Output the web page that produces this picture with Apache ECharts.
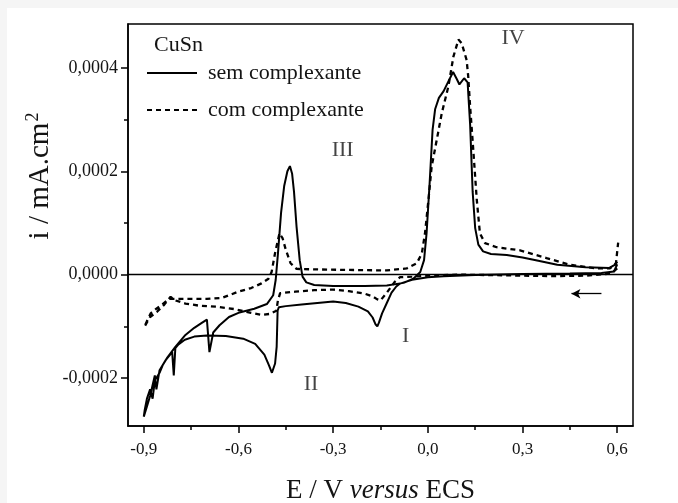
<!DOCTYPE html>
<html>
<head>
<meta charset="utf-8">
<script src="https://cdn.jsdelivr.net/npm/echarts@6/dist/echarts.min.js"></script>
<style>
  html, body { margin: 0; padding: 0; background: #f5f5f5; }
  #main { position: absolute; left: 7px; top: 8px; width: 671px; height: 495px; background: #fff; }
</style>
</head>
<body>
<div id="main"></div>
<script>
// E (V vs ECS) / i, varredura começa em 0,6 V no sentido catódico
const semComplexante = [
    [0.600, 0.000020], [0.590, 0.000006], [0.550, 0.000003], [0.450, 0.000002],
    [0.300, 0.000001], [0.150, -0.000001], [0.050, -0.000003], [0.000, -0.000005],
    [-0.050, -0.000010], [-0.090, -0.000018], [-0.100, -0.000023], [-0.115, -0.000035],
    [-0.130, -0.000055], [-0.145, -0.000075], [-0.155, -0.000093], [-0.160, -0.000100],
    [-0.166, -0.000096], [-0.175, -0.000083], [-0.190, -0.000071], [-0.220, -0.000062],
    [-0.260, -0.000055], [-0.300, -0.000052], [-0.350, -0.000055], [-0.400, -0.000058],
    [-0.450, -0.000061], [-0.472, -0.000063], [-0.476, -0.000070], [-0.479, -0.000140],
    [-0.484, -0.000172], [-0.494, -0.000190], [-0.503, -0.000176], [-0.518, -0.000155],
    [-0.547, -0.000134], [-0.585, -0.000124], [-0.640, -0.000119], [-0.700, -0.000118],
    [-0.740, -0.000120], [-0.770, -0.000126], [-0.790, -0.000135], [-0.800, -0.000142],
    [-0.805, -0.000195], [-0.810, -0.000150], [-0.830, -0.000165], [-0.850, -0.000185],
    [-0.860, -0.000222], [-0.865, -0.000195], [-0.880, -0.000235], [-0.890, -0.000255],
    [-0.900, -0.000275],
    [-0.897, -0.000262], [-0.890, -0.000240], [-0.880, -0.000222], [-0.872, -0.000240],
    [-0.865, -0.000205], [-0.850, -0.000190], [-0.840, -0.000175], [-0.825, -0.000160],
    [-0.800, -0.000140], [-0.770, -0.000118], [-0.740, -0.000103], [-0.715, -0.000093],
    [-0.700, -0.000087], [-0.692, -0.000150], [-0.680, -0.000112], [-0.660, -0.000098],
    [-0.630, -0.000082], [-0.600, -0.000074], [-0.550, -0.000066], [-0.510, -0.000057],
    [-0.490, -0.000040], [-0.482, -0.000010], [-0.475, 0.000040], [-0.465, 0.000120],
    [-0.455, 0.000172], [-0.445, 0.000200], [-0.437, 0.000210], [-0.430, 0.000195],
    [-0.424, 0.000160], [-0.416, 0.000093], [-0.406, 0.000028], [-0.397, -0.000004],
    [-0.385, -0.000015], [-0.360, -0.000020], [-0.300, -0.000022], [-0.200, -0.000022],
    [-0.130, -0.000021], [-0.077, -0.000016], [-0.046, -0.000008], [-0.024, 0.000005],
    [-0.012, 0.000028], [-0.004, 0.000080], [0.005, 0.000170], [0.015, 0.000280],
    [0.023, 0.000320], [0.035, 0.000342], [0.050, 0.000355], [0.062, 0.000370],
    [0.080, 0.000392], [0.092, 0.000378], [0.100, 0.000368], [0.115, 0.000380],
    [0.126, 0.000372], [0.134, 0.000290], [0.142, 0.000160], [0.150, 0.000090],
    [0.160, 0.000058], [0.175, 0.000045], [0.200, 0.000040], [0.250, 0.000038],
    [0.300, 0.000033], [0.350, 0.000027], [0.410, 0.000019], [0.500, 0.000014],
    [0.575, 0.000013], [0.595, 0.000020], [0.600, 0.000025]
]

const comComplexante = [
    [0.600, 0.000012], [0.580, 0.000002], [0.500, -0.000002], [0.400, -0.000003],
    [0.300, -0.000002], [0.200, -0.000001], [0.100, 0.000000], [0.000, -0.000002],
    [-0.050, -0.000004], [-0.088, -0.000005], [-0.105, -0.000014], [-0.130, -0.000035],
    [-0.150, -0.000050], [-0.160, -0.000048], [-0.175, -0.000042], [-0.200, -0.000037],
    [-0.250, -0.000032], [-0.300, -0.000029], [-0.360, -0.000030], [-0.420, -0.000033],
    [-0.468, -0.000036], [-0.475, -0.000050], [-0.480, -0.000070], [-0.500, -0.000076],
    [-0.527, -0.000078], [-0.560, -0.000074], [-0.610, -0.000067], [-0.670, -0.000062],
    [-0.726, -0.000060], [-0.768, -0.000056], [-0.800, -0.000050], [-0.815, -0.000043],
    [-0.835, -0.000058], [-0.858, -0.000072], [-0.880, -0.000082], [-0.898, -0.000101],
    [-0.890, -0.000090], [-0.878, -0.000075], [-0.860, -0.000066], [-0.842, -0.000058],
    [-0.820, -0.000047], [-0.790, -0.000047], [-0.758, -0.000047], [-0.700, -0.000047],
    [-0.652, -0.000045], [-0.600, -0.000033], [-0.560, -0.000026], [-0.527, -0.000017],
    [-0.505, -0.000008], [-0.495, 0.000005], [-0.484, 0.000042], [-0.470, 0.000080],
    [-0.460, 0.000070], [-0.450, 0.000048], [-0.435, 0.000022], [-0.416, 0.000011],
    [-0.350, 0.000010], [-0.250, 0.000009], [-0.130, 0.000008], [-0.067, 0.000012],
    [-0.035, 0.000022], [-0.019, 0.000041], [-0.009, 0.000080], [0.002, 0.000145],
    [0.012, 0.000209], [0.028, 0.000260], [0.044, 0.000312], [0.065, 0.000364],
    [0.081, 0.000422], [0.097, 0.000455], [0.107, 0.000448], [0.123, 0.000415],
    [0.128, 0.000383], [0.134, 0.000325], [0.144, 0.000241], [0.155, 0.000145],
    [0.165, 0.000080], [0.181, 0.000061], [0.218, 0.000053], [0.292, 0.000047],
    [0.376, 0.000032], [0.450, 0.000019], [0.535, 0.000012], [0.577, 0.000012],
    [0.596, 0.000022], [0.603, 0.000062]
]

const xMajor = [-0.9, -0.6, -0.3, 0, 0.3, 0.6]
const xMinor = [-0.75, -0.45, -0.15, 0.15, 0.45]
const yMajor = [-0.0002, 0, 0.0002, 0.0004]
const yMinor = [-0.0001, 0.0001, 0.0003]

const peakNames = ['I', 'II', 'III', 'IV']
const peakE = [-0.07, -0.37, -0.27, 0.27]
const peakI = [-0.000119, -0.000213, 0.000241, 0.000457]

const arrowE = [0.55, 0.455]
const arrowI = -0.000037

const FONT = 'Liberation Serif'
const INK = '#141414'
const X_MIN = -0.95, X_MAX = 0.65
const Y_MIN = -0.000293, Y_MAX = 0.000485

function fmt (v, d) {
    if (Math.abs(v) < 1e-12) v = 0
    return v.toFixed(d).replace('.', ',')
}

const chart = echarts.init(document.getElementById('main'), null, {renderer: 'canvas'})

const commonX = {type: 'value', min: X_MIN, max: X_MAX, splitLine: {show: false}}
const commonY = {type: 'value', min: Y_MIN, max: Y_MAX, splitLine: {show: false}}

chart.setOption({
    animation: false,
    grid: {
        left: 121, top: 16, right: 45, bottom: 77,
        outerBoundsMode: 'none', containLabel: false,
        show: true, borderColor: '#000', borderWidth: 1.5
    },
    legend: {
        data: ['sem complexante', 'com complexante'],
        orient: 'vertical',
        left: 139,
        top: 54,
        itemWidth: 50,
        itemHeight: 14,
        itemGap: 15,
        padding: 0,
        selectedMode: false,
        itemStyle: {opacity: 0},
        textStyle: {fontFamily: FONT, fontSize: 22, color: INK, padding: [0, 0, 0, 6]}
    },
    xAxis: [
        Object.assign({}, commonX, {
            position: 'bottom',
            axisLine: {show: true, onZero: false, lineStyle: {color: '#000', width: 1.5}},
            axisTick: {show: true, length: 7, customValues: xMajor, lineStyle: {color: '#000', width: 1.5}},
            axisLabel: {customValues: xMajor, margin: 15, fontFamily: FONT, fontSize: 17, color: INK,
                formatter: v => fmt(v, 1)},
            name: '{a|E / V }{b|versus}{a| ECS}',
            nameLocation: 'middle',
            nameGap: 51,
            nameTextStyle: {
                rich: {
                    a: {fontFamily: FONT, fontSize: 27, color: INK},
                    b: {fontFamily: FONT, fontSize: 27, fontStyle: 'italic', color: INK}
                }
            }
        }),
        Object.assign({}, commonX, {
            position: 'bottom', offset: 0,
            axisLine: {show: false, onZero: false},
            axisTick: {show: true, length: 4, customValues: xMinor, lineStyle: {color: '#000', width: 1.5}},
            axisLabel: {show: false}
        })
    ],
    yAxis: [
        Object.assign({}, commonY, {
            position: 'left',
            axisLine: {show: true, onZero: false, lineStyle: {color: '#000', width: 1.5}},
            axisTick: {show: true, length: 7, customValues: yMajor, lineStyle: {color: '#000', width: 1.5}},
            axisLabel: {customValues: yMajor, margin: 10, fontFamily: FONT, fontSize: 18, color: INK,
                formatter: v => fmt(v, 4)}
        }),
        Object.assign({}, commonY, {
            position: 'left', offset: 0,
            axisLine: {show: false, onZero: false},
            axisTick: {show: true, length: 4, customValues: yMinor, lineStyle: {color: '#000', width: 1.5}},
            axisLabel: {show: false}
        })
    ],
    graphic: [
        {
            type: 'text', x: 147, y: 37,
            style: {text: 'CuSn', fontFamily: FONT, fontSize: 22, fill: INK, verticalAlign: 'middle'}
        },
        {
            type: 'text', x: 33, y: 168, rotation: Math.PI / 2,
            style: {
                text: '{a|i / mA.cm}{b|2}',
                align: 'center', verticalAlign: 'middle',
                rich: {
                    a: {fontFamily: FONT, fontSize: 29, fill: INK, lineHeight: 32},
                    b: {fontFamily: FONT, fontSize: 18, fill: INK, verticalAlign: 'top', lineHeight: 32, padding: [0, 0, 8, 1]}
                }
            }
        }
    ],
    series: [
        {
            name: 'sem complexante',
            type: 'line',
            data: semComplexante,
            symbol: 'none',
            lineStyle: {color: '#000', width: 2},
            itemStyle: {color: '#000'},
            markLine: {
                silent: true,
                symbol: 'none',
                label: {show: false},
                lineStyle: {color: '#000', width: 1.3, type: 'solid'},
                data: [{yAxis: 0}]
            },
            z: 3
        },
        {
            name: 'com complexante',
            type: 'line',
            data: comComplexante,
            symbol: 'none',
            lineStyle: {color: '#000', width: 2.3, type: [5, 4]},
            itemStyle: {color: '#000'},
            z: 3
        },
        {
            name: 'rotulos',
            type: 'scatter',
            data: peakNames.map((n, i) => ({name: n, value: [peakE[i], peakI[i]]})),
            symbolSize: 0,
            label: {show: true, position: 'inside', formatter: '{b}', fontFamily: FONT, fontSize: 22, color: INK},
            markLine: {
                silent: true,
                symbol: ['none', 'arrow'],
                symbolSize: [7, 9],
                label: {show: false},
                lineStyle: {color: '#000', width: 1.3, type: 'solid'},
                data: [[{coord: [arrowE[0], arrowI]}, {coord: [arrowE[1], arrowI]}]]
            },
            z: 4
        }
    ]
})
</script>
</body>
</html>
